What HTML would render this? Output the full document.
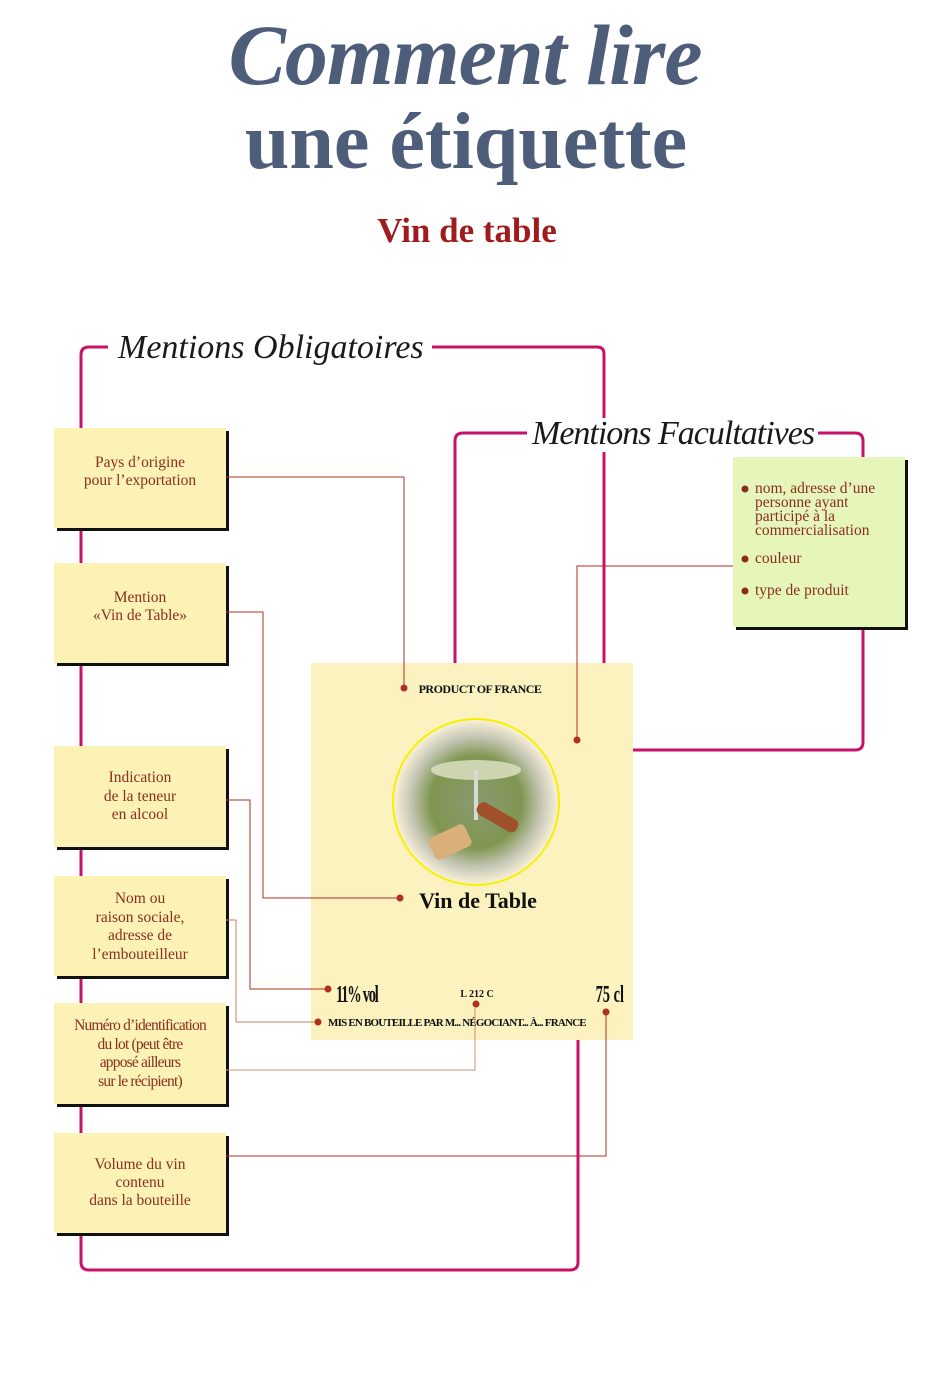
<!DOCTYPE html>
<html><head><meta charset="utf-8"><style>
html,body{margin:0;padding:0;background:#fff;width:939px;height:1377px;overflow:hidden}
svg text{font-family:"Liberation Serif",serif}
</style></head><body>
<svg width="939" height="1377" viewBox="0 0 939 1377" xmlns="http://www.w3.org/2000/svg">
<defs>
<radialGradient id="ph" cx="50%" cy="50%" r="50%">
<stop offset="0" stop-color="#8a9a70"/><stop offset="0.55" stop-color="#7f9650"/><stop offset="0.8" stop-color="#c8c8b8"/><stop offset="1" stop-color="#fbf3d8"/>
</radialGradient>
</defs>
<!-- Title -->
<text x="465" y="84" text-anchor="middle" font-size="86" font-style="italic" font-weight="bold" fill="#4d5d7a" letter-spacing="-1">Comment lire</text>
<text x="466" y="168" text-anchor="middle" font-size="80" font-weight="bold" fill="#4d5d7a">une étiquette</text>
<text x="467" y="242" text-anchor="middle" font-size="35" font-weight="bold" fill="#a01c1c">Vin de table</text>

<!-- magenta frames -->
<g fill="none" stroke="#c8126a" stroke-width="3">
<path d="M81 428 V355 Q81 347 89 347 H108"/>
<path d="M432 347 H597 Q604 347 604 354 V663"/>
<path d="M81 528 V563 M81 663 V746 M81 847 V876 M81 976 V1003 M81 1104 V1133"/>
<path d="M81 1233 V1262 Q81 1270 89 1270 H570 Q578 1270 578 1262 V1040"/>
<path d="M455 663 V441 Q455 433 463 433 H527"/>
<path d="M818 433 H855 Q863 433 863 441 V457"/>
<path d="M863 627 V742 Q863 750 855 750 H633"/>
</g>
<text x="118" y="358" font-size="34" font-style="italic" fill="#1a1a1a">Mentions Obligatoires</text>
<rect x="527" y="418" width="291" height="34" fill="#fff"/>
<text x="532" y="444" font-size="34" font-style="italic" fill="#1a1a1a" letter-spacing="-1">Mentions Facultatives</text>

<!-- label -->
<rect x="311" y="663" width="322" height="377" fill="#fcf2c0"/>
<circle cx="476" cy="802" r="83" fill="url(#ph)" stroke="#f5f000" stroke-width="2"/>
<ellipse cx="476" cy="770" rx="45" ry="10" fill="#e0e4c8" opacity="0.8"/>
<rect x="474" y="770" width="4" height="50" fill="#d8dcd0"/>
<rect x="475" y="810" width="45" height="14" rx="6" fill="#a0502a" transform="rotate(30 497 817)"/>
<rect x="430" y="830" width="40" height="24" rx="5" fill="#d8b078" transform="rotate(-25 450 842)"/>
<text x="480" y="693" text-anchor="middle" font-size="12" font-weight="bold" fill="#111" letter-spacing="-0.5">PRODUCT OF FRANCE</text>
<text x="478" y="908" text-anchor="middle" font-size="22" font-weight="bold" fill="#111">Vin de Table</text>
<text x="336" y="1002" font-size="24" font-weight="bold" fill="#111" transform="scale(0.6 1) translate(224 0)" letter-spacing="-2">11% vol</text>
<text x="477" y="997" text-anchor="middle" font-size="10" font-weight="bold" fill="#111">L 212 C</text>
<text x="596" y="1002" font-size="24" font-weight="bold" fill="#111" transform="translate(238 0) scale(0.6 1)">75 cl</text>
<text x="328" y="1026" font-size="11" font-weight="bold" fill="#111" letter-spacing="-0.8">MIS EN BOUTEILLE PAR M... NÉGOCIANT... À... FRANCE</text>

<!-- boxes -->
<g fill="#111">
<rect x="57" y="431" width="172" height="100"/><rect x="57" y="566" width="172" height="100"/>
<rect x="57" y="749" width="172" height="101"/><rect x="57" y="879" width="172" height="100"/>
<rect x="57" y="1006" width="172" height="101"/><rect x="57" y="1136" width="172" height="100"/>
<rect x="736" y="460" width="172" height="170"/>
</g>
<g fill="#fcf2b6">
<rect x="54" y="428" width="172" height="100"/><rect x="54" y="563" width="172" height="100"/>
<rect x="54" y="746" width="172" height="101"/><rect x="54" y="876" width="172" height="100"/>
<rect x="54" y="1003" width="172" height="101"/><rect x="54" y="1133" width="172" height="100"/>
</g>
<rect x="733" y="457" width="172" height="170" fill="#e6f5ba"/>

<g font-size="15.5" fill="#8a2e1e" text-anchor="middle">
<text x="140" y="467">Pays d’origine</text><text x="140" y="485">pour l’exportation</text>
<text x="140" y="602">Mention</text><text x="140" y="620">«Vin de Table»</text>
<text x="140" y="782">Indication</text><text x="140" y="801">de la teneur</text><text x="140" y="819">en alcool</text>
<text x="140" y="903">Nom ou</text><text x="140" y="922">raison sociale,</text><text x="140" y="940">adresse de</text><text x="140" y="959">l’embouteilleur</text>
<g letter-spacing="-0.8"><text x="140" y="1030">Numéro d’identification</text><text x="140" y="1049">du lot (peut être</text><text x="140" y="1067">apposé ailleurs</text><text x="140" y="1086">sur le récipient)</text></g>
<text x="140" y="1169">Volume du vin</text><text x="140" y="1187">contenu</text><text x="140" y="1205">dans la bouteille</text>
</g>
<g font-size="15.5" fill="#8a2e1e">
<text x="755" y="493">nom, adresse d’une</text>
<text x="755" y="507">personne ayant</text>
<text x="755" y="521">participé à la</text>
<text x="755" y="535">commercialisation</text>
<text x="755" y="563">couleur</text>
<text x="755" y="595">type de produit</text>
</g>
<g fill="#8a2e1e"><circle cx="745" cy="489" r="3.5"/><circle cx="745" cy="559" r="3.5"/><circle cx="745" cy="591" r="3.5"/></g>

<!-- connectors -->
<g fill="none" stroke="#b03020" stroke-width="1">
<path d="M226 477 H404 V688"/>
<path d="M226 612 H263 V898 H400"/>
<path d="M226 800 H250 V989 H328"/>
<path d="M226 920 H236 V1022 H318" stroke="#c88060"/>
<path d="M226 1070 H475 V1004" stroke="#d09070"/>
<path d="M226 1156 H606 V1012"/>
<path d="M733 566 H577 V740"/>
</g>
<g fill="#b03020">
<circle cx="404" cy="688" r="3.5"/><circle cx="400" cy="898" r="3.5"/><circle cx="328" cy="989" r="3.5"/>
<circle cx="318" cy="1022" r="3.5"/><circle cx="476" cy="1004" r="3.5"/><circle cx="606" cy="1012" r="3.5"/>
<circle cx="577" cy="740" r="3.5"/>
</g>
</svg>
</body></html>
